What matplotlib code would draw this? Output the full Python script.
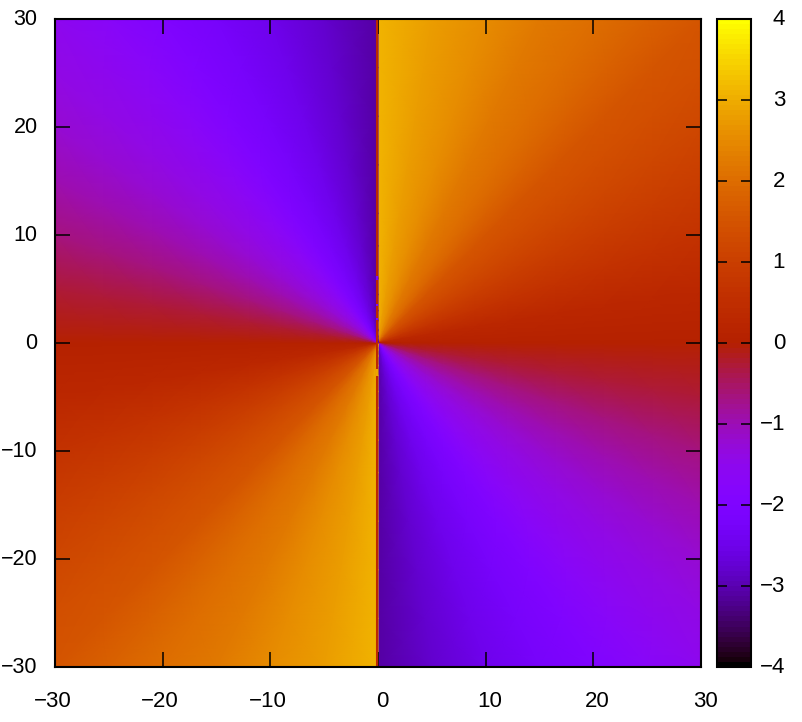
import numpy as np
import matplotlib
matplotlib.use("Agg")
import matplotlib.pyplot as plt
from matplotlib.cm import ScalarMappable
from matplotlib.colors import Normalize
from matplotlib.transforms import ScaledTranslation

plt.rcParams['font.family'] = ['Liberation Sans', 'DejaVu Sans']

# values read along the box edge, right half, clockwise from the top at x = 0
edge_x = [0, 5, 10, 15, 20, 25, 30, 30, 30, 30, 30, 30, 30, 30, 30, 30, 30, 30, 30, 25, 20, 15, 10, 5, 0]
edge_y = [30, 30, 30, 30, 30, 30, 30, 25, 20, 15, 10, 5, 0, -5, -10, -15, -20, -25, -30, -30, -30, -30, -30, -30, -30]
edge_val = [3.1, 2.8, 2.5, 2.2, 2.0, 1.75, 1.55, 1.4, 1.2, 0.95, 0.65, 0.3, 0.0,
            -0.3, -0.65, -0.95, -1.2, -1.4, -1.55, -1.75, -2.0, -2.2, -2.5, -2.8, -3.1]

# left half, clockwise from the bottom at x = 0
left_x = [0, -5, -10, -15, -20, -25, -30, -30, -30, -30, -30, -30, -30, -30, -30, -30, -30, -30, -30, -25, -20, -15, -10, -5, 0]
left_y = [-30, -30, -30, -30, -30, -30, -30, -25, -20, -15, -10, -5, 0, 5, 10, 15, 20, 25, 30, 30, 30, 30, 30, 30, 30]
left_val = [3.1, 2.8, 2.5, 2.2, 2.0, 1.75, 1.55, 1.4, 1.2, 0.95, 0.65, 0.3, 0.0,
            -0.3, -0.65, -0.95, -1.2, -1.4, -1.55, -1.75, -2.0, -2.2, -2.5, -2.8, -3.1]

ticks_xy = [-30, -20, -10, 0, 10, 20, 30]
ticks_cb = [-4, -3, -2, -1, 0, 1, 2, 3, 4]

# the thin line at x = 0 and the odd specks on it
seam_x = -0.1
seam_val = 0.35
speck_y0 = [5.8, 3.4, 2.1, -3.05]
speck_y1 = [6.2, 3.6, 2.3, -2.4]
speck_val = [-2.0, -2.0, -2.0, 2.9]

W, H = 802, 722
cmap = plt.get_cmap('gnuplot', 128)
norm = Normalize(-4, 4)


def fan(ax, xs, ys, vals):
    """Draw one half of the square as a fan of rays from the centre."""
    frac = np.array([0, 0.005, 0.01, 0.02, 0.04, 0.07, 0.1, 0.15, 0.2, 0.3, 0.4, 0.55, 0.7, 0.85, 1])[:, None]
    X = frac * np.array(xs, float)
    Y = frac * np.array(ys, float)
    C = np.tile(np.array(vals, float), (len(frac), 1))
    ax.pcolormesh(X, Y, C, shading='gouraud', cmap=cmap, norm=norm)


def minus(vals):
    return [str(t).replace('-', '\u2212') for t in vals]


def shift(label, dx, dy):
    label.set_transform(label.get_transform() + ScaledTranslation(dx / 100, dy / 100, fig.dpi_scale_trans))


fig = plt.figure(figsize=(W / 100, H / 100), dpi=100)
ax = fig.add_axes([55 / W, 1 - 667 / H, 646 / W, 648 / H])
cax = fig.add_axes([717 / W, 1 - 667 / H, 34 / W, 648 / H])

fan(ax, edge_x, edge_y, edge_val)
fan(ax, left_x, left_y, left_val)
ax.axvline(seam_x, color=cmap(norm(seam_val)), lw=1.5, zorder=2)
ax.vlines([seam_x] * len(speck_val), speck_y0, speck_y1, colors=[cmap(norm(v)) for v in speck_val], lw=1.5, zorder=3)

ax.set_xlim(-30, 30)
ax.set_ylim(-30, 30)
ax.set_xticks(ticks_xy)
ax.set_yticks(ticks_xy)
ax.set_xticklabels(minus(ticks_xy))
ax.set_yticklabels(minus(ticks_xy))
ax.tick_params(direction='in', top=True, right=True, length=10.5, width=1.1, labelsize=16)
ax.tick_params(axis='x', pad=17)
ax.tick_params(axis='y', pad=12.5, labelsize=15.5)

cb = fig.colorbar(ScalarMappable(norm=norm, cmap=cmap), cax=cax)
cb.set_ticks(ticks_cb)
cb.set_ticklabels(minus(ticks_cb))
cax.tick_params(direction='in', left=True, right=True, length=7.5, width=1.1, labelsize=16, pad=24.5)
cb.outline.set_linewidth(1.5)

for s in ax.spines.values():
    s.set_linewidth(1.5)

for t, lab in zip(ticks_xy, ax.get_xticklabels()):
    shift(lab, -2.5 if t < 0 else 4, 0)
for lab in ax.get_yticklabels():
    shift(lab, 0, 2)
for lab in cax.get_yticklabels():
    lab.set_ha('right')
    shift(lab, 0, 2)

fig.savefig('out.png', dpi=100)
